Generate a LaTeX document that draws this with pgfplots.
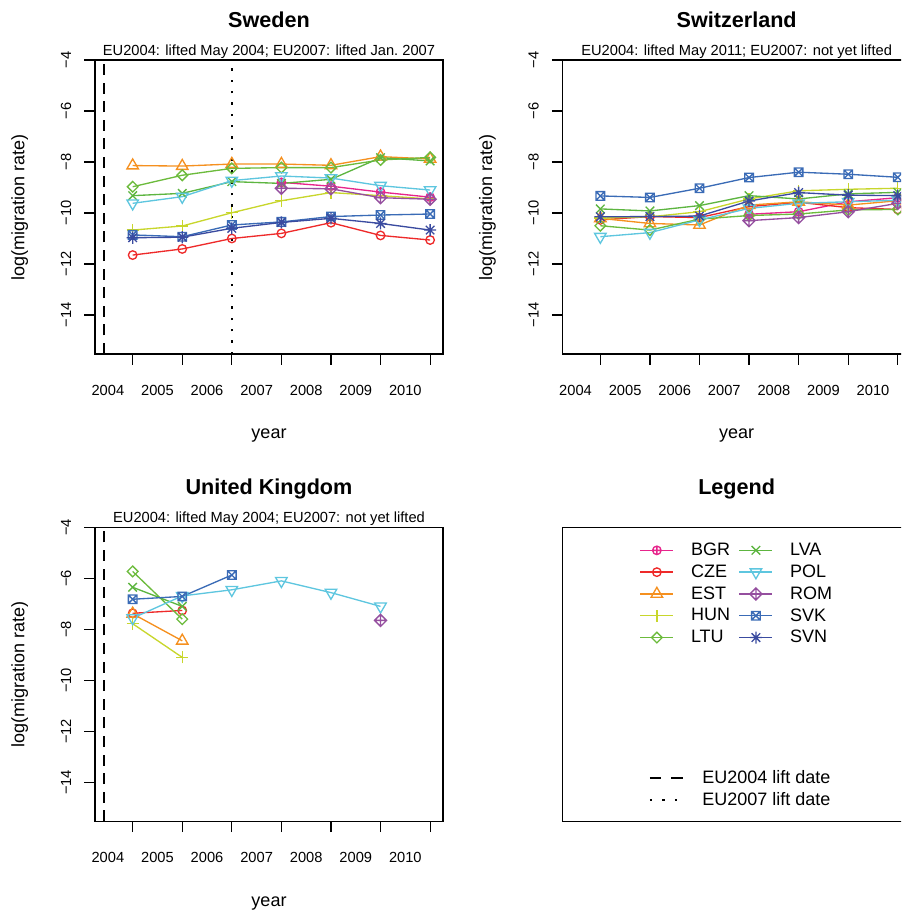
\documentclass[border=0pt]{standalone}
\usepackage{fontspec}
\setmainfont{Liberation Sans}
\usepackage{pgfplots}
\pgfplotsset{compat=1.18}

\definecolor{cBGR}{HTML}{E7258C}
\definecolor{cCZE}{HTML}{EE2A2A}
\definecolor{cEST}{HTML}{F5901F}
\definecolor{cHUN}{HTML}{C8D62C}
\definecolor{cLTU}{HTML}{6CBB3C}
\definecolor{cLVA}{HTML}{5DB540}
\definecolor{cPOL}{HTML}{5EC6DF}
\definecolor{cROM}{HTML}{954F9F}
\definecolor{cSVK}{HTML}{3A6BB6}
\definecolor{cSVN}{HTML}{3A4BA0}

% R-like plotting symbols
\pgfdeclareplotmark{rpch1}{\pgfpathcircle{\pgfpointorigin}{\pgfplotmarksize}\pgfusepathqstroke}
\pgfdeclareplotmark{rpch10}{%
  \pgfpathcircle{\pgfpointorigin}{\pgfplotmarksize}%
  \pgfpathmoveto{\pgfqpoint{-\pgfplotmarksize}{0pt}}\pgfpathlineto{\pgfqpoint{\pgfplotmarksize}{0pt}}%
  \pgfpathmoveto{\pgfqpoint{0pt}{-\pgfplotmarksize}}\pgfpathlineto{\pgfqpoint{0pt}{\pgfplotmarksize}}%
  \pgfusepathqstroke}
\pgfdeclareplotmark{rpch2}{%
  \pgfpathmoveto{\pgfqpoint{0pt}{1.555\pgfplotmarksize}}%
  \pgfpathlineto{\pgfqpoint{1.347\pgfplotmarksize}{-0.778\pgfplotmarksize}}%
  \pgfpathlineto{\pgfqpoint{-1.347\pgfplotmarksize}{-0.778\pgfplotmarksize}}%
  \pgfpathclose\pgfusepathqstroke}
\pgfdeclareplotmark{rpch6}{%
  \pgfpathmoveto{\pgfqpoint{0pt}{-1.555\pgfplotmarksize}}%
  \pgfpathlineto{\pgfqpoint{1.347\pgfplotmarksize}{0.778\pgfplotmarksize}}%
  \pgfpathlineto{\pgfqpoint{-1.347\pgfplotmarksize}{0.778\pgfplotmarksize}}%
  \pgfpathclose\pgfusepathqstroke}
\pgfdeclareplotmark{rpch3}{%
  \pgfpathmoveto{\pgfqpoint{-1.414\pgfplotmarksize}{0pt}}\pgfpathlineto{\pgfqpoint{1.414\pgfplotmarksize}{0pt}}%
  \pgfpathmoveto{\pgfqpoint{0pt}{-1.414\pgfplotmarksize}}\pgfpathlineto{\pgfqpoint{0pt}{1.414\pgfplotmarksize}}%
  \pgfusepathqstroke}
\pgfdeclareplotmark{rpch4}{%
  \pgfpathmoveto{\pgfqpoint{-\pgfplotmarksize}{-\pgfplotmarksize}}\pgfpathlineto{\pgfqpoint{\pgfplotmarksize}{\pgfplotmarksize}}%
  \pgfpathmoveto{\pgfqpoint{-\pgfplotmarksize}{\pgfplotmarksize}}\pgfpathlineto{\pgfqpoint{\pgfplotmarksize}{-\pgfplotmarksize}}%
  \pgfusepathqstroke}
\pgfdeclareplotmark{rpch5}{%
  \pgfpathmoveto{\pgfqpoint{0pt}{1.2533\pgfplotmarksize}}%
  \pgfpathlineto{\pgfqpoint{1.2533\pgfplotmarksize}{0pt}}%
  \pgfpathlineto{\pgfqpoint{0pt}{-1.2533\pgfplotmarksize}}%
  \pgfpathlineto{\pgfqpoint{-1.2533\pgfplotmarksize}{0pt}}%
  \pgfpathclose\pgfusepathqstroke}
\pgfdeclareplotmark{rpch7}{%
  \pgfpathrectangle{\pgfqpoint{-\pgfplotmarksize}{-\pgfplotmarksize}}{\pgfqpoint{2\pgfplotmarksize}{2\pgfplotmarksize}}%
  \pgfpathmoveto{\pgfqpoint{-\pgfplotmarksize}{-\pgfplotmarksize}}\pgfpathlineto{\pgfqpoint{\pgfplotmarksize}{\pgfplotmarksize}}%
  \pgfpathmoveto{\pgfqpoint{-\pgfplotmarksize}{\pgfplotmarksize}}\pgfpathlineto{\pgfqpoint{\pgfplotmarksize}{-\pgfplotmarksize}}%
  \pgfusepathqstroke}
\pgfdeclareplotmark{rpch8}{%
  \pgfpathmoveto{\pgfqpoint{-\pgfplotmarksize}{-\pgfplotmarksize}}\pgfpathlineto{\pgfqpoint{\pgfplotmarksize}{\pgfplotmarksize}}%
  \pgfpathmoveto{\pgfqpoint{-\pgfplotmarksize}{\pgfplotmarksize}}\pgfpathlineto{\pgfqpoint{\pgfplotmarksize}{-\pgfplotmarksize}}%
  \pgfpathmoveto{\pgfqpoint{-1.414\pgfplotmarksize}{0pt}}\pgfpathlineto{\pgfqpoint{1.414\pgfplotmarksize}{0pt}}%
  \pgfpathmoveto{\pgfqpoint{0pt}{-1.414\pgfplotmarksize}}\pgfpathlineto{\pgfqpoint{0pt}{1.414\pgfplotmarksize}}%
  \pgfusepathqstroke}
\pgfdeclareplotmark{rpch9}{%
  \pgfpathmoveto{\pgfqpoint{0pt}{1.414\pgfplotmarksize}}%
  \pgfpathlineto{\pgfqpoint{1.414\pgfplotmarksize}{0pt}}%
  \pgfpathlineto{\pgfqpoint{0pt}{-1.414\pgfplotmarksize}}%
  \pgfpathlineto{\pgfqpoint{-1.414\pgfplotmarksize}{0pt}}%
  \pgfpathclose
  \pgfpathmoveto{\pgfqpoint{-1.414\pgfplotmarksize}{0pt}}\pgfpathlineto{\pgfqpoint{1.414\pgfplotmarksize}{0pt}}%
  \pgfpathmoveto{\pgfqpoint{0pt}{-1.414\pgfplotmarksize}}\pgfpathlineto{\pgfqpoint{0pt}{1.414\pgfplotmarksize}}%
  \pgfusepathqstroke}

\tikzset{
  subt/.style={anchor=base, font=\fontsize{11}{13}\selectfont},
  lift04/.style={black, line width=1.7pt, dash pattern=on 8.25pt off 5.7pt},
  lift07/.style={black, line width=1.6pt, dash pattern=on 1.8pt off 6.7pt},
}
\pgfplotsset{
  ser/.style={line width=1pt, mark size=3.2pt, mark options={solid}},
  sBGR/.style={ser, color=cBGR, mark=rpch10},
  sCZE/.style={ser, color=cCZE, mark=rpch1},
  sEST/.style={ser, color=cEST, mark=rpch2},
  sHUN/.style={ser, color=cHUN, mark=rpch3},
  sLTU/.style={ser, color=cLTU, mark=rpch5},
  sLVA/.style={ser, color=cLVA, mark=rpch4},
  sPOL/.style={ser, color=cPOL, mark=rpch6},
  sROM/.style={ser, color=cROM, mark=rpch9},
  sSVK/.style={ser, color=cSVK, mark=rpch7},
  sSVN/.style={ser, color=cSVN, mark=rpch8},
  boxed/.style={
    anchor=north west, scale only axis, width=261pt, height=220.5pt,
    axis line style={line width=0.9pt},
    title style={at={(axis description cs:0.5,1.084)}, anchor=base, yshift=0pt,
      font=\bfseries\fontsize{16.2}{19}\selectfont},
  },
  panel/.style={
    boxed,
    xmin=2004.24, xmax=2011.26, ymin=-15.53, ymax=-4,
    tick align=outside, tick pos=left,
    major tick length=8.1pt,
    tick style={black, line width=0.9pt},
    xtick={2005,2006,2007,2008,2009,2010,2011}, xticklabels={,,,,,,},
    extra x ticks={2004.5,2005.5,2006.5,2007.5,2008.5,2009.5,2010.5},
    extra x tick labels={2004,2005,2006,2007,2008,2009,2010},
    extra x tick style={major tick length=0pt},
    xticklabel style={anchor=base},
    xticklabel shift=30.75pt,
    ytick={-14,-12,-10,-8,-6,-4},
    yticklabels={−14,−12,−10,−8,−6,−4},
    yticklabel style={rotate=90, anchor=base},
    yticklabel shift=9.9pt,
    tick label style={font=\fontsize{11}{13}\selectfont},
    xlabel={year}, ylabel={log(migration rate)},
    label style={font=\fontsize{13.5}{16}\selectfont},
    xlabel style={at={(axis description cs:0.5,-0.2880)}, anchor=base},
    ylabel style={at={(axis description cs:-0.2026,0.5)}, anchor=base},
  },
}

\begin{document}
\begin{tikzpicture}
\useasboundingbox (0pt,0pt) rectangle (675.75pt,-684.75pt);
\clip (0pt,0pt) rectangle (675.75pt,-684.75pt);

% ---------------- Sweden ----------------
\begin{axis}[panel, at={(71.25pt,-45pt)}, title={Sweden},
  extra description/.code={\node[subt] at (0.5,1.017) {EU2004: lifted May 2004; EU2007: lifted Jan.\ 2007};}]
\addplot[lift04] coordinates {(2004.42,-15.53) (2004.42,-4)};
\addplot[lift07] coordinates {(2007,-15.53) (2007,-4)};
\addplot[sBGR] coordinates {(2008,-8.80) (2009,-8.95) (2010,-9.18) (2011,-9.38)};
\addplot[sCZE] coordinates {(2005,-11.65) (2006,-11.41) (2007,-11.00) (2008,-10.80) (2009,-10.38) (2010,-10.88) (2011,-11.06)};
\addplot[sEST] coordinates {(2005,-8.14) (2006,-8.16) (2007,-8.08) (2008,-8.08) (2009,-8.13) (2010,-7.79) (2011,-7.88)};
\addplot[sHUN] coordinates {(2005,-10.67) (2006,-10.51) (2007,-9.99) (2008,-9.52) (2009,-9.20) (2010,-9.32) (2011,-9.45)};
\addplot[sLTU] coordinates {(2005,-8.97) (2006,-8.52) (2007,-8.25) (2008,-8.22) (2009,-8.22) (2010,-7.92) (2011,-7.82)};
\addplot[sLVA] coordinates {(2005,-9.32) (2006,-9.23) (2007,-8.77) (2008,-8.84) (2009,-8.68) (2010,-7.83) (2011,-7.96)};
\addplot[sPOL] coordinates {(2005,-9.62) (2006,-9.36) (2007,-8.73) (2008,-8.55) (2009,-8.63) (2010,-8.93) (2011,-9.10)};
\addplot[sROM] coordinates {(2008,-9.03) (2009,-9.05) (2010,-9.40) (2011,-9.46)};
\addplot[sSVK] coordinates {(2005,-10.86) (2006,-10.93) (2007,-10.47) (2008,-10.35) (2009,-10.14) (2010,-10.08) (2011,-10.04)};
\addplot[sSVN] coordinates {(2005,-10.97) (2006,-10.95) (2007,-10.60) (2008,-10.37) (2009,-10.21) (2010,-10.41) (2011,-10.67)};
\end{axis}

% ---------------- Switzerland ----------------
\begin{axis}[panel, at={(422pt,-45pt)}, title={Switzerland},
  extra description/.code={\node[subt] at (0.5,1.017) {EU2004: lifted May 2011; EU2007: not yet lifted};}]
\addplot[sBGR] coordinates {(2008,-10.05) (2009,-9.95) (2010,-9.56) (2011,-9.40)};
\addplot[sCZE] coordinates {(2005,-10.27) (2006,-10.14) (2007,-10.18) (2008,-9.75) (2009,-9.58) (2010,-9.79) (2011,-9.86)};
\addplot[sEST] coordinates {(2005,-10.21) (2006,-10.41) (2007,-10.47) (2008,-9.69) (2009,-9.56) (2010,-9.69) (2011,-9.52)};
\addplot[sHUN] coordinates {(2005,-10.20) (2006,-10.15) (2007,-9.95) (2008,-9.45) (2009,-9.13) (2010,-9.07) (2011,-9.03)};
\addplot[sLTU] coordinates {(2005,-10.50) (2006,-10.67) (2007,-10.24) (2008,-10.10) (2009,-10.04) (2010,-9.88) (2011,-9.86)};
\addplot[sLVA] coordinates {(2005,-9.84) (2006,-9.92) (2007,-9.71) (2008,-9.32) (2009,-9.45) (2010,-9.25) (2011,-9.19)};
\addplot[sPOL] coordinates {(2005,-10.93) (2006,-10.77) (2007,-10.27) (2008,-9.82) (2009,-9.62) (2010,-9.56) (2011,-9.50)};
\addplot[sROM] coordinates {(2008,-10.30) (2009,-10.18) (2010,-9.95) (2011,-9.62)};
\addplot[sSVK] coordinates {(2005,-9.33) (2006,-9.39) (2007,-9.03) (2008,-8.61) (2009,-8.40) (2010,-8.48) (2011,-8.60)};
\addplot[sSVN] coordinates {(2005,-10.15) (2006,-10.14) (2007,-10.12) (2008,-9.53) (2009,-9.20) (2010,-9.30) (2011,-9.32)};
\end{axis}

% ---------------- United Kingdom ----------------
\begin{axis}[panel, at={(71.25pt,-395.5pt)}, title={United Kingdom},
  extra description/.code={\node[subt] at (0.5,1.017) {EU2004: lifted May 2004; EU2007: not yet lifted};}]
\addplot[lift04] coordinates {(2004.42,-15.53) (2004.42,-4)};
\addplot[sCZE] coordinates {(2005,-7.37) (2006,-7.26)};
\addplot[sEST] coordinates {(2005,-7.39) (2006,-8.45)};
\addplot[sHUN] coordinates {(2005,-7.78) (2006,-9.10)};
\addplot[sLTU] coordinates {(2005,-5.73) (2006,-7.60)};
\addplot[sLVA] coordinates {(2005,-6.35) (2006,-7.10)};
\addplot[sPOL] coordinates {(2005,-7.56) (2006,-6.69) (2007,-6.45) (2008,-6.10) (2009,-6.56) (2010,-7.10)};
\addplot[sROM] coordinates {(2010,-7.65)};
\addplot[sSVK] coordinates {(2005,-6.82) (2006,-6.71) (2007,-5.87)};
\end{axis}

% ---------------- Legend panel ----------------
\begin{axis}[boxed, at={(422pt,-395.5pt)}, title={Legend},
  xmin=0, xmax=1, ymin=0, ymax=1, xtick=\empty, ytick=\empty,
  legend columns=2, legend cell align=left,
  legend image code/.code={\draw[mark repeat=2, mark phase=2, #1] plot coordinates {(0pt,0pt) (12.375pt,0pt) (24.75pt,0pt)};},
  legend style={at={(axis description cs:0.2213,0.9588)}, anchor=north west,
    draw=none, fill=none, inner sep=0pt, outer sep=0pt, row sep=0pt, column sep=0pt,
    font=\fontsize{13.5}{16}\selectfont,
    nodes={inner sep=0pt, minimum height=16.35pt},
    /tikz/every odd column/.append style={column sep=12.75pt},
    /tikz/every even column/.append style={column sep=6.55pt}}]
\addlegendimage{sBGR}\addlegendentry{BGR}
\addlegendimage{sLVA}\addlegendentry{LVA}
\addlegendimage{sCZE}\addlegendentry{CZE}
\addlegendimage{sPOL}\addlegendentry{POL}
\addlegendimage{sEST}\addlegendentry{EST}
\addlegendimage{sROM}\addlegendentry{ROM}
\addlegendimage{sHUN}\addlegendentry{HUN}
\addlegendimage{sSVK}\addlegendentry{SVK}
\addlegendimage{sLTU}\addlegendentry{LTU}
\addlegendimage{sSVN}\addlegendentry{SVN}
\end{axis}
\begin{axis}[anchor=north west, scale only axis, width=261pt, height=220.5pt,
  at={(422pt,-395.5pt)}, hide axis, xmin=0, xmax=1, ymin=0, ymax=1,
  legend cell align=left,
  legend image code/.code={\draw[#1] (0pt,0pt) -- (25.3pt,0pt);},
  legend style={at={(axis description cs:0.2471,0.186)}, anchor=north west,
    draw=none, fill=none, inner sep=0pt, outer sep=0pt, row sep=0pt,
    font=\fontsize{13.5}{16}\selectfont,
    nodes={inner sep=0pt, minimum height=16.5pt},
    /tikz/every odd column/.append style={column sep=13.2pt}}]
\addlegendimage{black, line width=1.7pt, dash pattern=on 8.75pt off 7.5pt}\addlegendentry{EU2004 lift date}
\addlegendimage{black, line width=1.6pt, dash pattern=on 1.8pt off 7.6pt}\addlegendentry{EU2007 lift date}
\end{axis}
\end{tikzpicture}
\end{document}
